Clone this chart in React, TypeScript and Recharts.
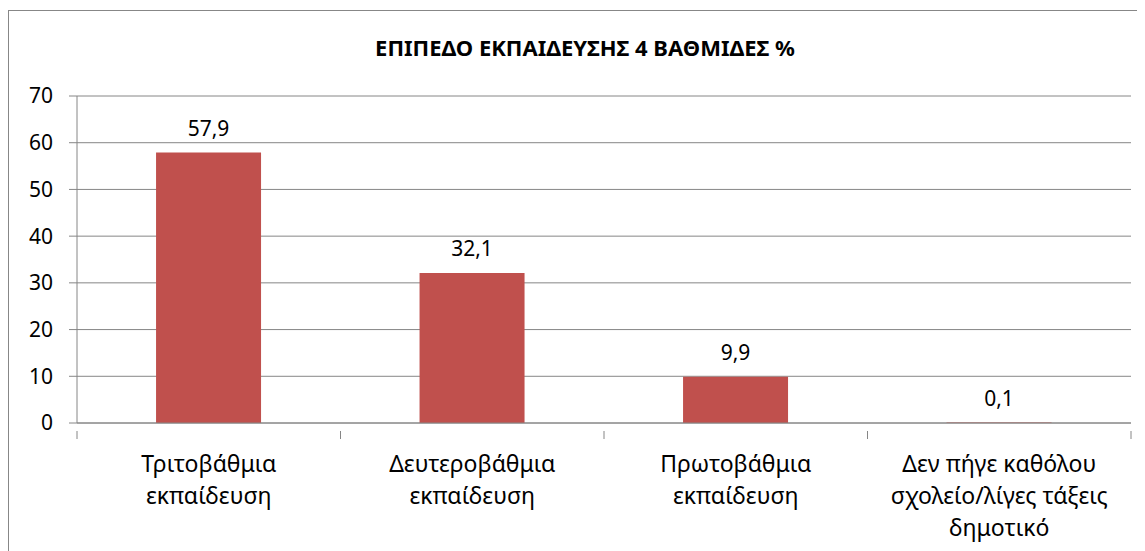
import React from 'react';
import { BarChart, Bar, XAxis, YAxis, CartesianGrid, LabelList } from 'recharts';

const categories = [
  'Τριτοβάθμια εκπαίδευση',
  'Δευτεροβάθμια εκπαίδευση',
  'Πρωτοβάθμια εκπαίδευση',
  'Δεν πήγε καθόλου σχολείο/λίγες τάξεις δημοτικό',
];
const categoryLines = [
  ['Τριτοβάθμια', 'εκπαίδευση'],
  ['Δευτεροβάθμια', 'εκπαίδευση'],
  ['Πρωτοβάθμια', 'εκπαίδευση'],
  ['Δεν πήγε καθόλου', 'σχολείο/λίγες τάξεις', 'δημοτικό'],
];
const values = [57.9, 32.1, 9.9, 0.1];
const yTicks = [0, 10, 20, 30, 40, 50, 60, 70];

const TITLE = 'ΕΠΙΠΕΔΟ ΕΚΠΑΙΔΕΥΣΗΣ 4 ΒΑΘΜΙΔΕΣ %';
const FONT = '"Noto Sans", sans-serif';
const GRID = '#868686';

const data = categories.map((name, i) => ({ name, value: values[i] }));

const CategoryTick = (props: any) => {
  const { x, y, index, width, visibleTicksCount } = props;
  const half = width / visibleTicksCount / 2;
  const lines = categoryLines[index] || [];
  return (
    <g>
      <line x1={x - half} y1={y} x2={x - half} y2={y + 8} stroke={GRID} />
      {index === visibleTicksCount - 1 && (
        <line x1={x + half} y1={y} x2={x + half} y2={y + 8} stroke={GRID} />
      )}
      <text x={x} y={y + 41} textAnchor="middle" fontSize={23} fontFamily={FONT} fill="#000">
        {lines.map((l, i) => (
          <tspan key={i} x={x} dy={i === 0 ? 0 : 32}>
            {l}
          </tspan>
        ))}
      </text>
    </g>
  );
};

export default function App() {
  return (
    <div
      style={{
        position: 'relative',
        width: 1150,
        height: 560,
        marginTop: 2,
        border: '1px solid #878787',
        boxSizing: 'border-box',
        background: '#fff',
      }}
    >
      <div
        style={{
          position: 'absolute',
          top: 21,
          left: 0,
          width: 1152,
          textAlign: 'center',
          fontFamily: FONT,
          fontWeight: 'bold',
          fontSize: 22,
          color: '#000',
        }}
      >
        {TITLE}
      </div>
      <BarChart
        width={1140}
        height={540}
        data={data}
        margin={{ top: 85, right: 18, bottom: 0, left: 0 }}
        barCategoryGap="30%"
      >
        <CartesianGrid vertical={false} stroke={GRID} />
        <XAxis
          dataKey="name"
          stroke={GRID}
          tickLine={false}
          height={128}
          interval={0}
          tick={<CategoryTick />}
        />
        <YAxis
          domain={[0, 70]}
          ticks={yTicks}
          width={68}
          stroke={GRID}
          tickSize={8}
          tickMargin={16}
          tick={{ fill: '#000', fontSize: 21, fontFamily: FONT }}
        />
        <Bar dataKey="value" fill="#C0504D" isAnimationActive={false}>
          <LabelList
            dataKey="value"
            position="top"
            offset={17}
            formatter={(v: number) => v.toFixed(1).replace('.', ',')}
            style={{ fill: '#000', fontSize: 21, fontFamily: FONT }}
          />
        </Bar>
      </BarChart>
    </div>
  );
}
